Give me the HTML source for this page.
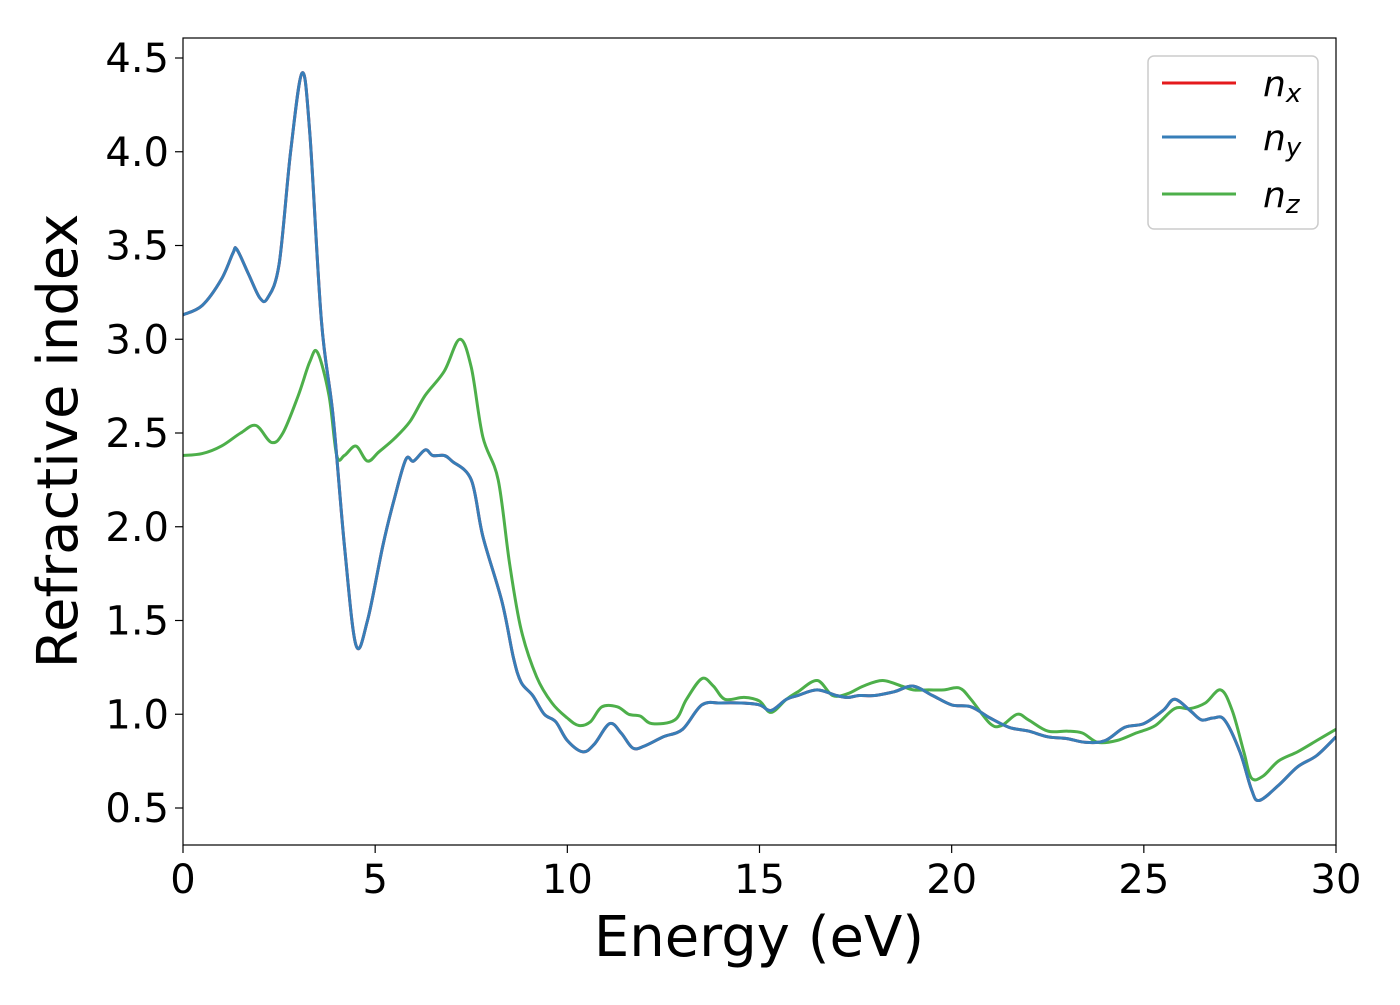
<!DOCTYPE html>
<html><head><meta charset="utf-8"><style>
body{margin:0;background:#fff}
svg text{font-family:"DejaVu Sans","Liberation Sans",sans-serif;fill:#000}
</style></head><body>
<svg id="chart" width="1400" height="1000" viewBox="0 0 1400 1000" xmlns="http://www.w3.org/2000/svg">
<rect width="1400" height="1000" fill="#fff"/>
<g id="plot"></g>
<g id="axes"></g>
<g id="legend">
<rect x="1148" y="56" width="170" height="173" rx="6" fill="#fff" stroke="#ccc" stroke-width="1.5"/>
<line x1="1162" y1="83" x2="1236" y2="83" stroke="#e41a1c" stroke-width="3"/>
<line x1="1162" y1="137" x2="1236" y2="137" stroke="#377eb8" stroke-width="3"/>
<line x1="1162" y1="194" x2="1236" y2="194" stroke="#4daf4a" stroke-width="3"/>
<text x="1263" y="96" font-size="36" font-style="italic">n<tspan font-size="26" dy="6">x</tspan></text>
<text x="1263" y="150" font-size="36" font-style="italic">n<tspan font-size="26" dy="6">y</tspan></text>
<text x="1263" y="207" font-size="36" font-style="italic">n<tspan font-size="26" dy="6">z</tspan></text>
</g>
</svg>
<script>
const xTicks=[0,5,10,15,20,25,30];
const yTicks=[0.5,1.0,1.5,2.0,2.5,3.0,3.5,4.0,4.5];
const nyE=[0,0.5,1.0,1.3,1.4,1.7,2.0,2.2,2.5,2.8,3.1,3.3,3.6,3.9,4.2,4.5,4.8,5.2,5.5,5.8,6.0,6.3,6.5,6.8,7.0,7.5,7.8,8.3,8.6,8.8,9.1,9.4,9.7,10.0,10.4,10.7,11.1,11.4,11.7,12.0,12.5,13.0,13.5,14.0,14.5,15.0,15.3,15.7,16.0,16.5,17.0,17.3,17.6,18.0,18.5,19.0,19.5,20.0,20.5,21.0,21.5,22.0,22.5,23.0,23.5,24.0,24.5,25.0,25.5,25.8,26.2,26.5,26.8,27.1,27.5,27.8,28.0,28.5,29.0,29.5,30.0];
const nyV=[3.13,3.18,3.32,3.46,3.48,3.35,3.22,3.22,3.4,4.0,4.42,4.1,3.1,2.6,1.9,1.37,1.5,1.9,2.15,2.36,2.35,2.41,2.38,2.38,2.35,2.25,1.95,1.6,1.3,1.17,1.1,1.0,0.96,0.86,0.8,0.84,0.95,0.9,0.82,0.83,0.88,0.92,1.05,1.06,1.06,1.05,1.02,1.08,1.1,1.13,1.1,1.09,1.1,1.1,1.12,1.15,1.1,1.05,1.04,0.98,0.93,0.91,0.88,0.87,0.85,0.86,0.93,0.95,1.02,1.08,1.02,0.97,0.98,0.97,0.8,0.6,0.54,0.62,0.72,0.78,0.88];
const nxV=nyV.slice();
const nzE=[0,0.5,1.0,1.5,1.9,2.3,2.6,3.0,3.3,3.5,3.8,4.0,4.2,4.5,4.8,5.1,5.5,5.9,6.3,6.8,7.2,7.5,7.8,8.2,8.5,8.8,9.2,9.6,10.0,10.3,10.6,10.9,11.3,11.6,11.9,12.2,12.8,13.1,13.5,13.8,14.1,14.6,15.0,15.3,15.7,16.0,16.5,16.9,17.3,17.7,18.2,18.7,19.0,19.4,19.8,20.2,20.5,21.0,21.3,21.7,22.0,22.5,23.0,23.4,23.8,24.3,24.8,25.3,25.8,26.2,26.6,27.0,27.3,27.6,27.8,28.1,28.5,29.0,29.5,30.0];
const nzV=[2.38,2.39,2.43,2.5,2.54,2.45,2.5,2.7,2.88,2.93,2.7,2.38,2.38,2.43,2.35,2.4,2.47,2.56,2.7,2.83,3.0,2.85,2.48,2.25,1.8,1.45,1.2,1.06,0.98,0.94,0.96,1.04,1.04,1.0,0.99,0.95,0.97,1.08,1.19,1.15,1.08,1.09,1.07,1.01,1.08,1.12,1.18,1.1,1.11,1.15,1.18,1.15,1.13,1.13,1.13,1.14,1.08,0.95,0.94,1.0,0.97,0.91,0.91,0.9,0.85,0.86,0.9,0.94,1.03,1.03,1.06,1.13,1.02,0.8,0.66,0.67,0.75,0.8,0.86,0.92];
const L=183,R=1336,T=38,B=845;
const xS=e=>L+(e/30)*(R-L);
const yS=v=>808-(v-0.5)*187.5;
const NS="http://www.w3.org/2000/svg";
function mk(tag,attrs,parent){const el=document.createElementNS(NS,tag);for(const k in attrs)el.setAttribute(k,attrs[k]);parent.appendChild(el);return el;}
function pathFor(xs,ys){const p=xs.map((x,i)=>[xS(x),yS(ys[i])]);let d="M"+p[0][0]+","+p[0][1];
for(let i=0;i<p.length-1;i++){const p0=p[Math.max(0,i-1)],p1=p[i],p2=p[i+1],p3=p[Math.min(p.length-1,i+2)];
const c1x=p1[0]+(p2[0]-p0[0])/6,c1y=p1[1]+(p2[1]-p0[1])/6,c2x=p2[0]-(p3[0]-p1[0])/6,c2y=p2[1]-(p3[1]-p1[1])/6;
d+=` C${c1x.toFixed(1)},${c1y.toFixed(1)} ${c2x.toFixed(1)},${c2y.toFixed(1)} ${p2[0].toFixed(1)},${p2[1].toFixed(1)}`;}return d;}
const plot=document.getElementById('plot');
mk('clipPath',{id:'clip'},plot).appendChild(Object.assign(document.createElementNS(NS,'rect'),{})).setAttribute('x',L);
const cr=document.querySelector('#clip rect');cr.setAttribute('y',T);cr.setAttribute('width',R-L);cr.setAttribute('height',B-T);
const g=mk('g',{'clip-path':'url(#clip)'},plot);
const lx=mk('path',{d:pathFor(nyE,nxV),fill:'none',stroke:'#e41a1c','stroke-width':3},g);


const lz=mk('path',{d:pathFor(nzE,nzV),fill:'none',stroke:'#4daf4a','stroke-width':3},g);


const ly=mk('path',{d:pathFor(nyE,nyV),fill:'none',stroke:'#377eb8','stroke-width':3},g);


const ax=document.getElementById('axes');
const fr=mk('rect',{x:L,y:T,width:R-L,height:B-T,fill:'none',stroke:'#000','stroke-width':1.2},ax);


xTicks.forEach(t=>{const x=xS(t);mk('line',{x1:x,y1:B,x2:x,y2:B+8,stroke:'#000','stroke-width':1.2},ax);
const tx=mk('text',{x:x,y:B+48,'font-size':40,'text-anchor':'middle'},ax);tx.textContent=t;

});
yTicks.forEach(t=>{const y=yS(t);mk('line',{x1:L-8,y1:y,x2:L,y2:y,stroke:'#000','stroke-width':1.2},ax);
const tx=mk('text',{x:L-14,y:y+14,'font-size':40,'text-anchor':'end'},ax);tx.textContent=t.toFixed(1);

});
const xt=mk('text',{x:759,y:956,'font-size':56,'text-anchor':'middle'},ax);xt.textContent='Energy (eV)';


const yt=mk('text',{x:0,y:0,'font-size':56,'text-anchor':'middle',transform:'translate(77,441) rotate(-90)'},ax);yt.textContent='Refractive index';


</script>
</body></html>
